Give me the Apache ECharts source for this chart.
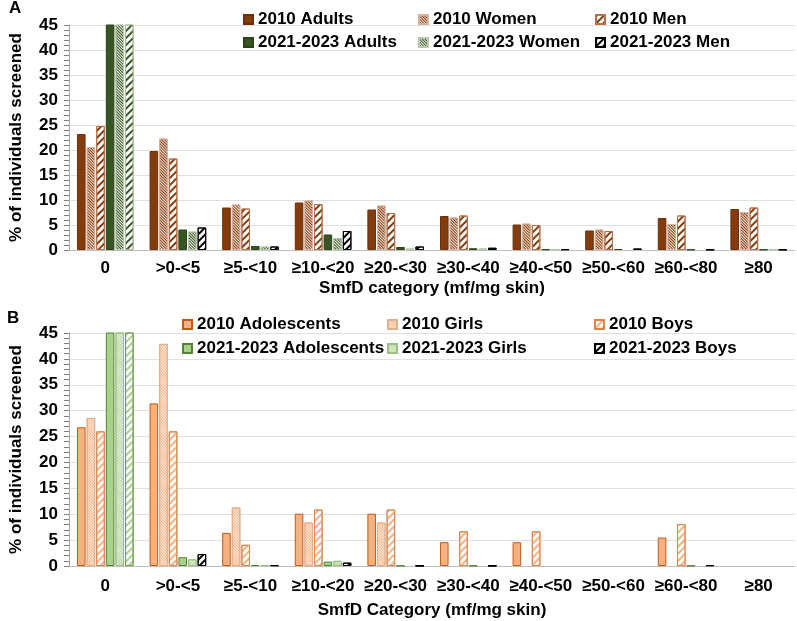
<!DOCTYPE html>
<html>
<head>
<meta charset="utf-8">
<script src="https://cdn.jsdelivr.net/npm/echarts@6/dist/echarts.min.js"></script>
<style>
  html, body { margin: 0; padding: 0; background: #fff; }
  #main { width: 797px; height: 621px; }
</style>
</head>
<body>
<div id="main"></div>
<script>
// SmfD categories (shared by both panels)
const categories = ['0', '>0-<5', '≥5-<10', '≥10-<20', '≥20-<30', '≥30-<40', '≥40-<50', '≥50-<60', '≥60-<80', '≥80']

// panel A - adults (% screened); category 0 of 2021-2023 runs off the top of the axis
const adults2010 = [23.2, 19.8, 8.5, 9.5, 8.1, 6.8, 5.1, 3.9, 6.4, 8.2]
const women2010 = [20.6, 22.3, 9.1, 9.9, 8.9, 6.5, 5.3, 4.1, 5.2, 7.6]
const men2010 = [24.8, 18.3, 8.3, 9.2, 7.4, 6.9, 5.0, 3.8, 6.9, 8.5]
const adults2021 = [89, 4.1, 0.8, 3.1, 0.6, 0.35, 0.15, 0.2, 0.1, 0.1]
const women2021 = [90, 3.7, 0.7, 2.4, 0.3, 0.3, 0.05, 0, 0, 0.05]
const men2021 = [88, 4.5, 0.7, 3.8, 0.7, 0.45, 0.15, 0.3, 0.1, 0.1]

// panel B - adolescents
const adol2010 = [26.8, 31.4, 6.4, 10.1, 10.1, 4.6, 4.6, 0, 5.5, 0]
const girls2010 = [28.6, 42.9, 11.3, 8.4, 8.4, 0, 0, 0, 0, 0]
const boys2010 = [26.0, 26.0, 4.1, 10.9, 10.9, 6.7, 6.7, 0, 8.1, 0]
const adol2021 = [93, 1.7, 0.2, 0.85, 0.05, 0.05, 0, 0, 0.05, 0]
const girls2021 = [94, 1.3, 0.2, 1.0, 0, 0, 0, 0, 0, 0]
const boys2021 = [92, 2.3, 0.15, 0.65, 0.05, 0.05, 0, 0, 0.15, 0]

const yTicks = [0, 5, 10, 15, 20, 25, 30, 35, 40, 45]

const FONT = '"Liberation Sans", Arial, sans-serif'

// patterns
function stripes (color) {
  return { symbol: 'rect', symbolSize: 1, color: color, dashArrayX: [1, 0], dashArrayY: [2, 3], rotation: -Math.PI / 4 }
}
function hatch (color) {
  return { symbol: 'rect', symbolSize: 1, color: color, dashArrayX: [1, 0], dashArrayY: [1, 1], rotation: Math.PI / 4 }
}

function bar (name, data, idx, fill, border, decal, first) {
  // zero = no bar at all (the original leaves the slot empty)
  let items = data.map(function (v, i) {
    if (v === 0) return '-'
    if (i === 0 && first) {
      return { value: v, itemStyle: first }
    }
    return v
  })
  let s = {
    name: name,
    type: 'bar',
    xAxisIndex: idx,
    yAxisIndex: idx,
    data: items,
    barCategoryGap: '22%',
    barGap: '12%',
    clip: true,
    itemStyle: { color: fill, borderColor: border, borderWidth: 1 }
  }
  if (decal) s.itemStyle.decal = decal
  return s
}

function xAxisCfg (idx, title, margin, gap) {
  return {
    type: 'category',
    gridIndex: idx,
    data: categories,
    axisLine: { lineStyle: { color: '#bfbfbf', width: 1 } },
    axisTick: { show: false },
    axisLabel: { color: '#000', fontSize: 17, fontWeight: 'bold', fontFamily: FONT, margin: margin, interval: 0 },
    name: title,
    nameLocation: 'middle',
    nameGap: gap,
    nameTextStyle: { color: '#000', fontSize: 17, fontWeight: 'bold', fontFamily: FONT }
  }
}

function yAxisCfg (idx) {
  return {
    type: 'value',
    gridIndex: idx,
    min: yTicks[0],
    max: yTicks[yTicks.length - 1],
    interval: yTicks[1] - yTicks[0],
    axisLine: { show: true, lineStyle: { color: '#a6a6a6' } },
    axisTick: { show: true, length: 5, lineStyle: { color: '#7f7f7f' } },
    minorTick: { show: true, splitNumber: 5, length: 5, lineStyle: { color: '#7f7f7f' } },
    splitLine: { lineStyle: { color: '#e0e0e0' } },
    axisLabel: { color: '#000', fontSize: 17, fontWeight: 'bold', fontFamily: FONT, margin: 11 },
    name: '% of individuals screened',
    nameLocation: 'middle',
    nameGap: 44,
    nameTextStyle: { color: '#000', fontSize: 17, fontWeight: 'bold', fontFamily: FONT }
  }
}

function legendCol (names, left, top, gap) {
  return {
    orient: 'vertical',
    left: left,
    top: top,
    padding: 0,
    itemGap: gap,
    itemWidth: 9,
    itemHeight: 9,
    icon: 'rect',
    selectedMode: false,
    data: names,
    textStyle: { color: '#000', fontSize: 17, fontWeight: 'bold', fontFamily: FONT }
  }
}

const brown = '#843C0C'
const dkGreen = '#375623'
const orange = '#F4B183'
const ltGreen = '#A9D18E'

let chart = echarts.init(document.getElementById('main'), null, { renderer: 'canvas' })
chart.setOption({
  backgroundColor: '#fff',
  animation: false,
  grid: [
    { left: 63, right: 2, top: 25, height: 225 },
    { left: 63, right: 2, top: 333, height: 233 }
  ],
  xAxis: [xAxisCfg(0, 'SmfD category (mf/mg skin)', 10, 30), xAxisCfg(1, 'SmfD Category (mf/mg skin)', 12, 36)],
  yAxis: [yAxisCfg(0), yAxisCfg(1)],
  legend: [
    legendCol(['2010 Adults', '2021-2023 Adults'], 243, 11, 6),
    legendCol(['2010 Women', '2021-2023 Women'], 418, 11, 6),
    legendCol(['2010 Men', '2021-2023 Men'], 595, 11, 6),
    legendCol(['2010 Adolescents', '2021-2023 Adolescents'], 182, 316, 7),
    legendCol(['2010 Girls', '2021-2023 Girls'], 387, 316, 7),
    legendCol(['2010 Boys', '2021-2023 Boys'], 594, 316, 7)
  ],
  graphic: [
    { type: 'text', left: 9, top: 0, style: { text: 'A', fill: '#000', font: 'bold 17px ' + FONT } },
    { type: 'text', left: 7, top: 310, style: { text: 'B', fill: '#000', font: 'bold 17px ' + FONT } }
  ],
  series: [
    bar('2010 Adults', adults2010, 0, brown, '#6b300a'),
    bar('2010 Women', women2010, 0, '#f6e4dc', '#d9b3a2', hatch(brown)),
    bar('2010 Men', men2010, 0, '#fff', '#b8704a', stripes(brown)),
    bar('2021-2023 Adults', adults2021, 0, dkGreen, '#2b431b'),
    bar('2021-2023 Women', women2021, 0, '#eef3ea', '#b7c7ab', hatch(dkGreen)),
    bar('2021-2023 Men', men2021, 0, '#fff', '#000', stripes('#000'),
      { color: '#fff', borderColor: '#a9bb9c', decal: stripes(dkGreen) }),

    bar('2010 Adolescents', adol2010, 1, orange, '#c55a11'),
    bar('2010 Girls', girls2010, 1, '#fdf0e6', '#e3b08c', hatch(orange)),
    bar('2010 Boys', boys2010, 1, '#fff', '#d9874f', stripes(orange)),
    bar('2021-2023 Adolescents', adol2021, 1, ltGreen, '#548235'),
    bar('2021-2023 Girls', girls2021, 1, '#f1f8ec', '#9cbf86', hatch(ltGreen)),
    bar('2021-2023 Boys', boys2021, 1, '#fff', '#000', stripes('#000'),
      { color: '#fff', borderColor: '#6f9a52', decal: stripes(ltGreen) })
  ]
})
</script>
</body>
</html>
